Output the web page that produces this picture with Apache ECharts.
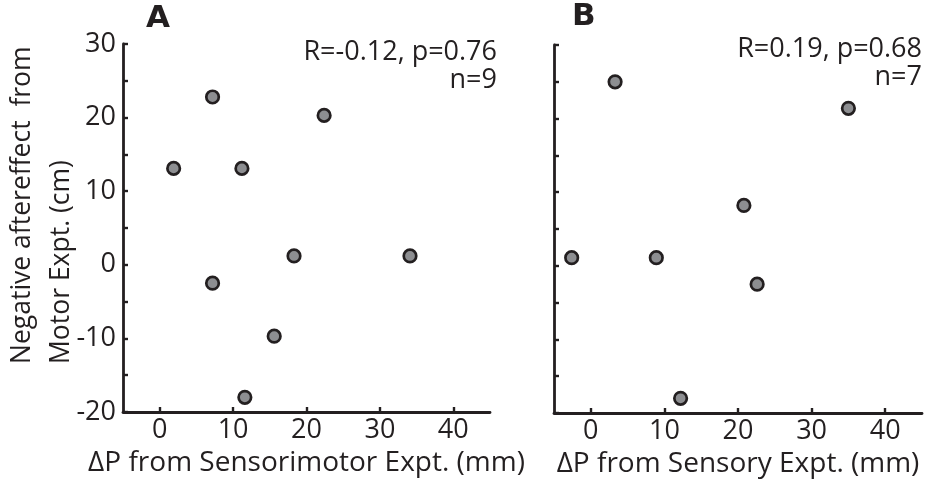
<!DOCTYPE html>
<html>
<head>
<meta charset="utf-8">
<script src="https://cdn.jsdelivr.net/npm/echarts@6/dist/echarts.min.js"></script>
<style>html,body{margin:0;padding:0;background:#fff}#c{width:942px;height:485px}</style>
</head>
<body>
<div id="c"></div>
<script>
// Panel A: Sensorimotor
var xA = [1.9, 7.2, 11.2, 22.4, 18.3, 34.1, 7.2, 15.6, 11.6];
var yA = [13.1, 22.8, 13.1, 20.3, 1.2, 1.2, -2.5, -9.7, -18.0];
// Panel B: Sensory
var xB = [3.3, 35.0, 20.8, -2.6, 8.9, 22.6, 12.2];
var yB = [25.0, 21.4, 8.2, 1.1, 1.1, -2.5, -18.0];
var xTicks = [0, 10, 20, 30, 40];
var yLabelTicks = [-20, -10, 0, 10, 20, 30];
var statsA = ['R=-0.12, p=0.76', 'n=9'];
var statsB = ['R=0.19, p=0.68', 'n=7'];
var panelLabels = ['A', 'B'];
var yNameLines = ['Negative aftereffect  from', 'Motor Expt. (cm)'];
var xNames = ['ΔP from Sensorimotor Expt. (mm)', 'ΔP from Sensory Expt. (mm)'];

var INK = '#231f20';
var FONT = '"Open Sans", "Noto Sans", sans-serif';
var FS = 27;

function xAxisCfg(gi, name) {
  return {
    type: 'value', gridIndex: gi, min: -5, max: 45,
    name: name, nameLocation: 'middle', nameGap: 37,
    nameTextStyle: {color: INK, fontFamily: FONT, fontSize: 28},
    axisLine: {show: true, onZero: false, lineStyle: {color: INK, width: 2.8}},
    axisTick: {show: true, inside: true, length: 5, customValues: xTicks, lineStyle: {color: INK, width: 2.4}},
    axisLabel: {customValues: xTicks, color: INK, fontFamily: FONT, fontSize: FS, margin: 5},
    splitLine: {show: false}
  };
}
function yAxisCfg(gi, showLabels) {
  return {
    type: 'value', gridIndex: gi, min: -20, max: 30, interval: 5,
    axisLine: {show: true, onZero: false, lineStyle: {color: INK, width: 2.8}},
    axisTick: {show: true, inside: true, length: 5, lineStyle: {color: INK, width: 2.4}},
    axisLabel: {show: showLabels, color: INK, fontFamily: FONT, fontSize: FS, margin: 7,
      formatter: function (v) { return yLabelTicks.indexOf(v) >= 0 ? String(v) : ''; }},
    splitLine: {show: false}
  };
}
function pts(xs, ys) { return xs.map(function (x, i) { return [x, ys[i]]; }); }
function scatter(gi, data) {
  return {
    type: 'scatter', xAxisIndex: gi, yAxisIndex: gi, data: data,
    symbol: 'circle', symbolSize: 12.5,
    itemStyle: {color: '#8d8e91', borderColor: INK, borderWidth: 2.7, opacity: 1},
    silent: true, animation: false
  };
}

var chart = echarts.init(document.getElementById('c'), null, {renderer: 'canvas'});
chart.setOption({
  animation: false,
  backgroundColor: '#fff',
  grid: [
    {left: 123, right: 452, top: 44, bottom: 73, containLabel: false, outerBoundsMode: 'none'},
    {left: 554, right: 20, top: 45, bottom: 72, containLabel: false, outerBoundsMode: 'none'}
  ],
  xAxis: [xAxisCfg(0, xNames[0]), xAxisCfg(1, xNames[1])],
  yAxis: [yAxisCfg(0, true), yAxisCfg(1, false)],
  series: [scatter(0, pts(xA, yA)), scatter(1, pts(xB, yB))],
  graphic: [
    {type: 'text', x: 22, y: 364, rotation: Math.PI / 2, style: {text: yNameLines[0], font: '26.5px ' + FONT, fill: INK, align: 'left', verticalAlign: 'middle'}},
    {type: 'text', x: 61, y: 364, rotation: Math.PI / 2, style: {text: yNameLines[1], font: '26.5px ' + FONT, fill: INK, align: 'left', verticalAlign: 'middle'}},
    {type: 'text', left: 146, top: 3, style: {text: panelLabels[0], font: 'bold 31px "DejaVu Sans", sans-serif', fill: INK}},
    {type: 'text', left: 572, top: 1, style: {text: panelLabels[1], font: 'bold 31px "DejaVu Sans", sans-serif', fill: INK}},
    {type: 'text', right: 943 - 498, top: 39, style: {text: statsA[0], font: FS + 'px ' + FONT, fill: INK, align: 'right'}},
    {type: 'text', right: 943 - 498, top: 67, style: {text: statsA[1], font: FS + 'px ' + FONT, fill: INK, align: 'right'}},
    {type: 'text', right: 943 - 923, top: 36, style: {text: statsB[0], font: FS + 'px ' + FONT, fill: INK, align: 'right'}},
    {type: 'text', right: 943 - 923, top: 64, style: {text: statsB[1], font: FS + 'px ' + FONT, fill: INK, align: 'right'}}
  ]
});
</script>
</body>
</html>
